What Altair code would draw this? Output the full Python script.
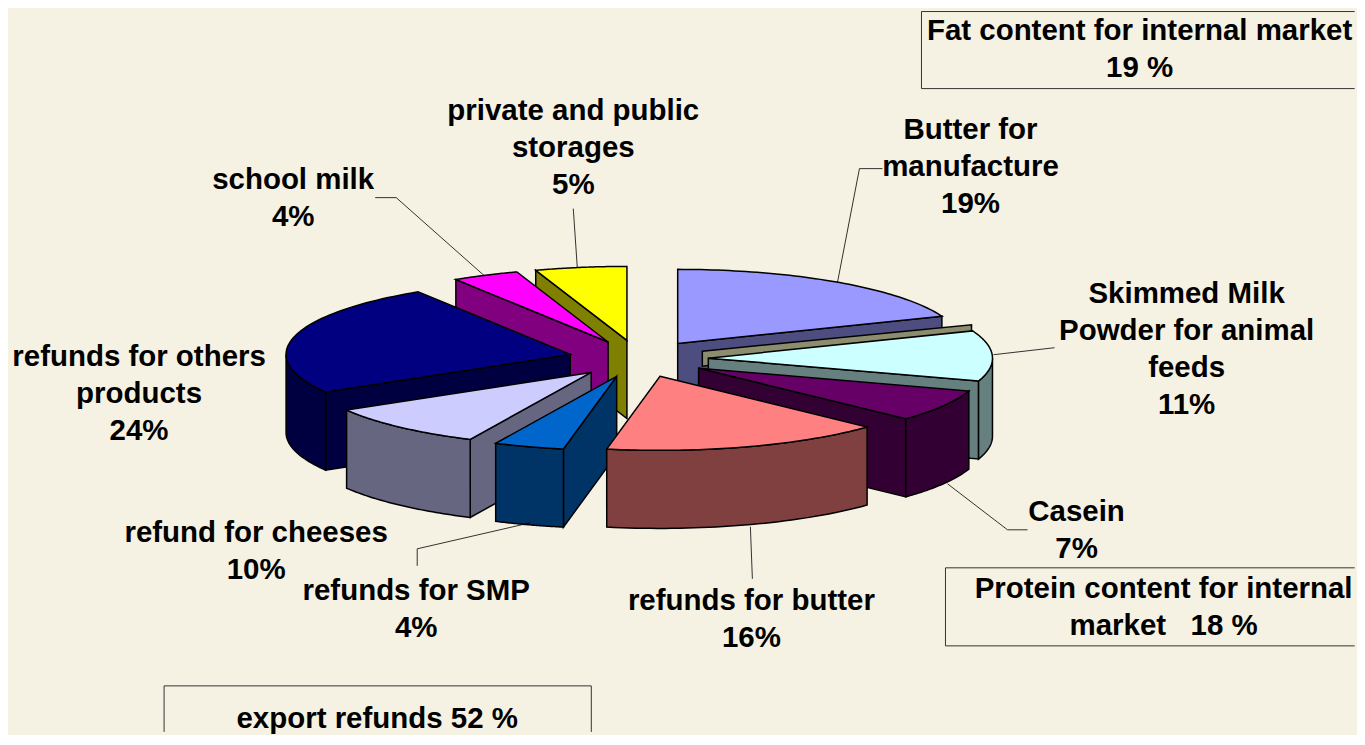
import numpy as np
import pandas as pd
import altair as alt

# --- data -----------------------------------------------------------------
slices = ["Butter for manufacture", "Skimmed Milk Powder for animal feeds", "Casein",
          "refunds for butter", "refunds for SMP", "refund for cheeses",
          "refunds for others products", "school milk", "private and public storages"]
shares = [19, 11, 7, 16, 4, 9.5, 24.5, 3.8, 5.2]
share_labels = ["19%", "11%", "7%", "16%", "4%", "10%", "24%", "4%", "5%"]
top_colors = ["#9999FF", "#CCFFFF", "#660066", "#FF8080", "#0066CC", "#CCCCFF", "#000080", "#FF00FF", "#FFFF00"]
side_colors = ["#4D4D80", "#668080", "#330033", "#804040", "#003366", "#666680", "#000040", "#800080", "#808000"]
group_boxes = ["Fat content for internal market|19 %",
               "Protein content for internal|market\u00a0\u00a0\u00a018 %",
               "export refunds 52 %"]

# --- layout (reference pixels) --------------------------------------------
W, H = 1349, 724
FIT = 1.002
BG = "#F5F1E3"
CX, CY, A, B, DEPTH, EX, EY = 638, 358, 284, 74, 78, 70, 18.5
paint_order = [8, 7, 0, 6, 1, 2, 5, 4, 3]
label_lines = [["Butter for", "manufacture"], ["Skimmed Milk", "Powder for animal", "feeds"], ["Casein"],
               ["refunds for butter"], ["refunds for SMP"], ["refund for cheeses"],
               ["refunds for others", "products"], ["school milk"], ["private and public", "storages"]]
label_anchor = [(970, 129), (1186, 293), (1076, 511), (751, 600), (416, 590), (256, 532), (139, 356), (293, 179), (573, 110)]
box_text_anchor = [(1139, 30), (1163, 588), (377, 718)]
LINE = 37
leaders = [[(882, 168), (859, 168), (837, 282)],
           [(993, 354), (1054, 347)],
           [(947, 483), (1007, 529), (1027, 529)],
           [(750, 526), (752, 578)],
           [(530, 522), (417, 548), (417, 565)],
           [(375, 197), (396, 197), (484, 275)],
           [(573, 208), (577, 267)]]
boxes = [[(921, 11), (1354, 11)], [(1354, 88), (921, 88), (921, 11)],
         [(1354, 567), (945, 567), (945, 645), (1354, 645)],
         [(164, 731), (164, 685), (591, 685), (591, 731)]]

xs = alt.X("x:Q", scale=alt.Scale(domain=[8, 8 + W / FIT]), axis=None)
ys = alt.Y("y:Q", scale=alt.Scale(domain=[8 + H / FIT, 8]), axis=None)


def ell(apex, deg):
    t = np.radians(deg)
    return apex[0] + A * np.sin(t), apex[1] - B * np.cos(t)


def poly_layer(points, fill, width=1.5):
    d = pd.DataFrame(points, columns=["x", "y"]).reset_index()
    return alt.Chart(d).mark_line(interpolate="linear-closed", fill=fill, stroke="#000000",
                                  strokeWidth=width, clip=True).encode(x=xs, y=ys, order="index:Q")


def slice_layers(i):
    start = sum(shares[:i]) * 3.6
    end = start + shares[i] * 3.6
    mid = np.radians((start + end) / 2)
    apex = (CX + EX * np.sin(mid), CY - EY * np.cos(mid))
    out = []
    down = lambda p: (p[0], p[1] + DEPTH)
    if i == 1:  # thin pale wall seen above the skimmed-milk wedge
        r = ell(apex, start)
        out.append(poly_layer([(apex[0] - 6, apex[1] - 7), (r[0] - 1, r[1] - 6),
                               (r[0] - 1, r[1] + 2), (apex[0] - 6, apex[1] + 8)], "#8C8C6E"))
    # radial walls facing the viewer
    if np.sin(np.radians(start)) < -1e-9:
        r = ell(apex, start)
        out.append(poly_layer([apex, r, down(r), down(apex)], side_colors[i]))
    if np.sin(np.radians(end)) > 1e-9:
        r = ell(apex, end)
        out.append(poly_layer([apex, r, down(r), down(apex)], side_colors[i]))
    # outer rim, front half only
    lo, hi = max(start, 90), min(end, 270)
    if hi > lo:
        arc = [ell(apex, a) for a in np.linspace(lo, hi, 40)]
        out.append(poly_layer(arc + [down(p) for p in arc[::-1]], side_colors[i]))
    # top face
    arc = [ell(apex, a) for a in np.linspace(start, end, 60)]
    out.append(poly_layer([apex] + arc, top_colors[i]))
    return out


layers = []
for i in paint_order:
    layers += slice_layers(i)

for path in leaders:
    d = pd.DataFrame(path, columns=["x", "y"]).reset_index()
    layers.append(alt.Chart(d).mark_line(color="#000000", strokeWidth=0.8).encode(x=xs, y=ys, order="index:Q"))
for path in boxes:
    d = pd.DataFrame(path, columns=["x", "y"]).reset_index()
    layers.append(alt.Chart(d).mark_line(color="#333333", strokeWidth=1).encode(x=xs, y=ys, order="index:Q"))

rows = []
for i, lines in enumerate(label_lines):
    x0, y0 = label_anchor[i]
    for k, t in enumerate(lines + [share_labels[i]]):
        rows.append({"x": x0, "y": y0 + k * LINE, "t": t})
for s, (x0, y0) in zip(group_boxes, box_text_anchor):
    for k, t in enumerate(s.split("|")):
        rows.append({"x": x0, "y": y0 + k * LINE, "t": t})
text_df = pd.DataFrame(rows)
layers.append(alt.Chart(text_df).mark_text(font="Liberation Sans", fontWeight="bold", fontSize=29.5,
                                           align="center", baseline="middle", color="#000000")
              .encode(x=xs, y=ys, text="t:N"))

chart = (alt.layer(*layers)
         .properties(width=W, height=H, background=BG, padding=0)
         .configure_view(stroke=None))
chart.save("out.html", embed_options={"renderer": "svg", "actions": False})
